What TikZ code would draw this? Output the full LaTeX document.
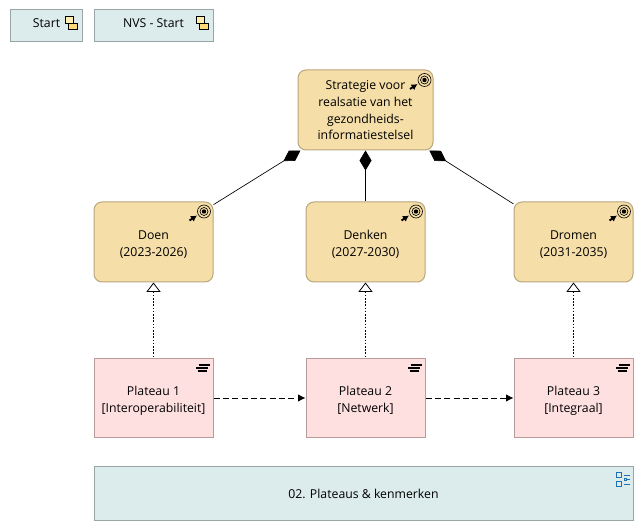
\documentclass[tikz,border=0pt]{standalone}
\usepackage{fontspec}
\usepackage{xcolor}
\setmainfont{Open Sans}
\usetikzlibrary{arrows.meta}
\definecolor{goalfill}{HTML}{F5DEA8}
\definecolor{goalline}{HTML}{B8A67C}
\definecolor{plateaufill}{HTML}{FFE0E0}
\definecolor{plateauline}{HTML}{B89C9C}
\definecolor{viewfill}{HTML}{DCEBEB}
\definecolor{viewline}{HTML}{9AA6A6}
\definecolor{iconblue}{HTML}{1F6FB5}
\definecolor{iconyellow}{HTML}{FFEDB0}
\definecolor{iconorange}{HTML}{FFD878}
% lines of a box, moved down a little
\newcommand{\boxlines}[2][2.2pt]{\raisebox{-#1}[\height][\depth]{\begin{tabular}{@{}c@{}}#2\end{tabular}}}
\tikzset{
  txt/.style={font=\fontsize{9.2pt}{12.5pt}\selectfont,inner sep=0pt},
  goalbox/.style={draw=goalline,line width=0.75pt,fill=goalfill,rounded corners=6pt,txt,minimum width=89.25pt,minimum height=60pt},
  plateaubox/.style={draw=plateauline,line width=0.75pt,fill=plateaufill,txt,minimum width=89.25pt,minimum height=59.25pt},
  viewbox/.style={draw=viewline,line width=0.75pt,fill=viewfill,txt,minimum height=24pt},
  composition/.style={line width=0.5pt,{Diamond[length=15pt,width=9pt]}-},
  realisation/.style={line width=0.5pt,dash pattern=on 1.2pt off 1.2pt,{Triangle[open,fill=white,length=7pt,width=10.5pt,line width=0.6pt,sep=0pt]}-},
  triggering/.style={line width=0.6pt,dash pattern=on 4.5pt off 2.5pt,-{Latex[length=5.5pt,width=5.5pt]}},
  goalicon/.pic={
    \begin{scope}[yscale=-1]
    \draw[fill=goalfill,line width=0.5pt] (0,0) circle (6.5);
    \draw[line width=0.5pt] (0,0) circle (4);
    \fill (0,0) circle (2.2);
    \draw[line width=1.4pt,-{Latex[length=4.5pt,width=5pt]}] (-14.5,9) -- (-7,4);
    \end{scope}
  },
  plateauicon/.pic={
    \begin{scope}[yscale=-1]
    \draw[line width=1.4pt] (-16,13) -- (-7,13);
    \draw[line width=1.4pt] (-17.5,10) -- (-5.5,10);
    \draw[line width=1.4pt] (-15,7) -- (-4,7);
    \end{scope}
  },
  groupicon/.pic={
    \begin{scope}[yscale=-1]
    \draw[fill=iconyellow,line width=0.5pt] (-17,7) rectangle (-9.5,14);
    \draw[fill=iconorange,line width=0.5pt] (-14,14) rectangle (-5,19.5);
    \end{scope}
  },
  listicon/.pic={
    \begin{scope}[yscale=-1]
    \draw[iconblue,line width=0.7pt] (-17,6.5) rectangle (-12,11.5);
    \draw[iconblue,line width=0.7pt] (-17,15.5) rectangle (-12,20.5);
    \draw[iconblue,line width=0.7pt] (-10,9.5) -- (-4,9.5);
    \draw[iconblue,line width=0.7pt] (-10,18.5) -- (-4,18.5);
    \draw[iconblue,line width=0.6pt] (-9.5,12.5) rectangle (-7.5,14.5);
    \draw[iconblue,line width=0.6pt] (-7.5,13.5) -- (-4,13.5);
    \end{scope}
  }
}
\begin{document}
\begin{tikzpicture}[x=0.75pt,y=0.75pt,yscale=-1,xscale=1]
\useasboundingbox (0,0) rectangle (644,531);
% boxes
\node (start) at (46,26) [viewbox,minimum width=54pt] {};
\node (nvs) at (153.5,26) [viewbox,minimum width=89.25pt] {};
\node (startlabel) at (46.5,23) [txt] {Start};
\node (nvslabel) at (153.5,23) [txt] {NVS - Start};
\node (strategie) at (365.5,110) [goalbox,minimum width=101.25pt] {\boxlines[1.2pt]{Strategie voor\\realsatie van het\\gezondheids-\\informatiestelsel}};
\node (doen) at (153.5,242) [goalbox] {\boxlines{Doen\\(2023-2026)}};
\node (denken) at (365.5,242) [goalbox] {\boxlines{Denken\\(2027-2030)}};
\node (dromen) at (573.5,242) [goalbox] {\boxlines{Dromen\\(2031-2035)}};
\node (plateau1) at (153.5,398) [plateaubox] {\boxlines{Plateau 1\\{[Interoperabiliteit]}}};
\node (plateau2) at (365.5,398) [plateaubox] {\boxlines{Plateau 2\\{[Netwerk]}}};
\node (plateau3) at (573.5,398) [plateaubox] {\boxlines{Plateau 3\\{[Integraal]}}};
\node (kenmerken) at (363.5,493.5) [viewbox,minimum width=404.25pt,minimum height=40.5pt] {02. Plateaus \& kenmerken};
% connectors
\draw[composition] (strategie) -- (doen);
\draw[composition] (strategie) -- (denken);
\draw[composition] (strategie) -- (dromen);
\draw[realisation] (doen) -- (plateau1);
\draw[realisation] (denken) -- (plateau2);
\draw[realisation] (dromen) -- (plateau3);
\draw[triggering] (plateau1) -- (plateau2);
\draw[triggering] (plateau2) -- (plateau3);
% icons
\path (strategie.north east) ++(-9,10.5) pic {goalicon};
\path (doen.north east) ++(-9.5,10) pic {goalicon};
\path (denken.north east) ++(-9.5,10) pic {goalicon};
\path (dromen.north east) ++(-9.5,10) pic {goalicon};
\path (plateau1.north east) pic {plateauicon};
\path (plateau2.north east) pic {plateauicon};
\path (plateau3.north east) pic {plateauicon};
\path (start.north east) pic {groupicon};
\path (nvs.north east) pic {groupicon};
\path (kenmerken.north east) pic {listicon};
\end{tikzpicture}
\end{document}
